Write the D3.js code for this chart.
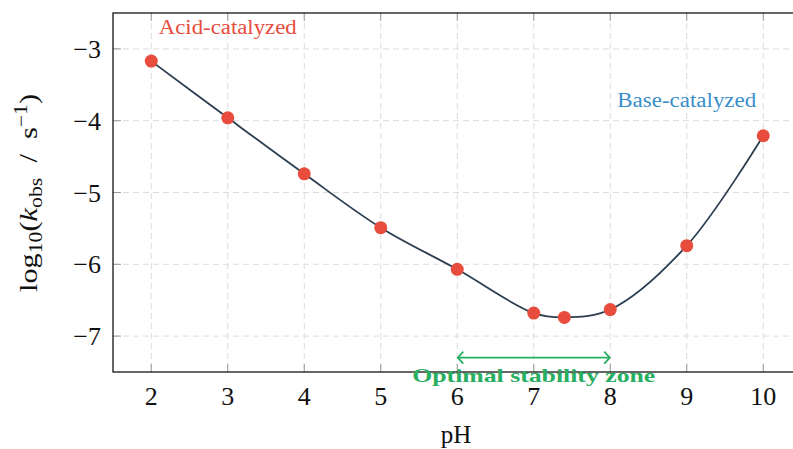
<!DOCTYPE html>
<html>
<head>
<meta charset="utf-8">
<script src="https://cdn.jsdelivr.net/npm/d3@7"></script>
<style>
  body { margin: 0; background: #fff; }
  svg { display: block; }
  text { font-family: "Liberation Serif", "DejaVu Serif", serif; }
  .tick-label { font-size: 26px; fill: #111; }
</style>
</head>
<body>
<svg width="793" height="449"></svg>
<script>
const width = 793;
const height = 449;

// data
const pH = [2, 3, 4, 5, 6, 7, 7.4, 8, 9, 10];
const logK = [-3.17, -3.96, -4.74, -5.49, -6.07, -6.68, -6.74, -6.63, -5.74, -4.21];
const xTicks = [2, 3, 4, 5, 6, 7, 8, 9, 10];
const yTicks = [-3, -4, -5, -6, -7];
const zoneStart = 6, zoneEnd = 8, zoneY = -7.3;

const margin = { left: 113, top: 13 };
const xScale = d3.scaleLinear().domain([1.5, 10.5]).range([margin.left, margin.left + 688.5]);
const yScale = d3.scaleLinear().domain([-2.5, -7.5]).range([margin.top, margin.top + 359]);

const svg = d3.select("svg");
const [x0, x1] = xScale.range();
const [y0, y1] = yScale.range();

// grid
const grid = svg.append("g").attr("stroke", "#dcdcdc").attr("stroke-width", 1).attr("stroke-dasharray", "6,4");
grid.selectAll(".vg").data(xTicks).enter().append("line")
  .attr("x1", d => xScale(d)).attr("x2", d => xScale(d))
  .attr("y1", y0).attr("y2", y1);
grid.selectAll(".hg").data(yTicks).enter().append("line")
  .attr("x1", x0).attr("x2", x1)
  .attr("y1", d => yScale(d)).attr("y2", d => yScale(d));

// tick marks (inside)
const ticks = svg.append("g").attr("stroke", "#9a9a9a").attr("stroke-width", 1);
xTicks.forEach(t => {
  ticks.append("line").attr("x1", xScale(t)).attr("x2", xScale(t)).attr("y1", y1).attr("y2", y1 - 8);
  ticks.append("line").attr("x1", xScale(t)).attr("x2", xScale(t)).attr("y1", y0).attr("y2", y0 + 8);
});
yTicks.forEach(t => {
  ticks.append("line").attr("x1", x0).attr("x2", x0 + 8).attr("y1", yScale(t)).attr("y2", yScale(t));
  ticks.append("line").attr("x1", x1).attr("x2", x1 - 8).attr("y1", yScale(t)).attr("y2", yScale(t));
});

// frame
svg.append("rect")
  .attr("x", x0).attr("y", y0).attr("width", x1 - x0).attr("height", y1 - y0)
  .attr("fill", "none").attr("stroke", "#000").attr("stroke-width", 1.2);

// tick labels
svg.selectAll(".xl").data(xTicks).enter().append("text")
  .attr("class", "tick-label")
  .attr("x", d => xScale(d)).attr("y", 405)
  .attr("text-anchor", "middle").text(d => d);
svg.selectAll(".yl").data(yTicks).enter().append("text")
  .attr("class", "tick-label")
  .attr("x", 101).attr("y", d => yScale(d) + 9)
  .attr("text-anchor", "end").text(d => "\u2212" + Math.abs(d));

// axis titles
svg.append("text").attr("x", 456).attr("y", 443)
  .attr("text-anchor", "middle").attr("font-size", 25).attr("fill", "#111").text("pH");

const yl = svg.append("text")
  .attr("transform", "translate(37,193) rotate(-90)")
  .attr("text-anchor", "middle").attr("font-size", 25).attr("fill", "#111")
  .attr("textLength", 198).attr("lengthAdjust", "spacingAndGlyphs");
yl.append("tspan").text("log");
yl.append("tspan").attr("font-size", 18).attr("dy", 5).text("10");
yl.append("tspan").attr("dy", -5).text("(");
yl.append("tspan").attr("font-style", "italic").text("k");
yl.append("tspan").attr("font-size", 18).attr("dy", 5).text("obs");
yl.append("tspan").attr("dy", -5).text("\u2002/\u2002s");
yl.append("tspan").attr("font-size", 18).attr("dy", -10).text("\u22121");
yl.append("tspan").attr("dy", 10).text(")");

// curve
const data = pH.map((x, i) => ({ x, y: logK[i] }));
const line = d3.line().x(d => xScale(d.x)).y(d => yScale(d.y)).curve(d3.curveCatmullRom.alpha(0.5));
svg.append("path").datum(data)
  .attr("d", line).attr("fill", "none").attr("stroke", "#2c3e50").attr("stroke-width", 1.8);

svg.selectAll(".dot").data(data).enter().append("circle")
  .attr("cx", d => xScale(d.x)).attr("cy", d => yScale(d.y))
  .attr("r", 6.5).attr("fill", "#e74c3c");

// annotations
svg.append("text").attr("x", xScale(3)).attr("y", yScale(-2.7) + 7)
  .attr("text-anchor", "middle").attr("font-size", 20).attr("fill", "#e74c3c")
  .attr("textLength", 138).attr("lengthAdjust", "spacingAndGlyphs").text("Acid-catalyzed");
svg.append("text").attr("x", xScale(9)).attr("y", yScale(-3.7) + 8)
  .attr("text-anchor", "middle").attr("font-size", 20).attr("fill", "#3a8fc9")
  .attr("textLength", 139).attr("lengthAdjust", "spacingAndGlyphs").text("Base-catalyzed");

// stability zone arrow
const green = "#27ae60";
const ay = yScale(zoneY);
const ax0 = xScale(zoneStart), ax1 = xScale(zoneEnd);
svg.append("line").attr("x1", ax0 + 1).attr("x2", ax1 - 1).attr("y1", ay).attr("y2", ay)
  .attr("stroke", green).attr("stroke-width", 1.8);
svg.append("path").attr("d", `M${ax0 + 6},${ay - 6} L${ax0 + 0.5},${ay} L${ax0 + 6},${ay + 6}`)
  .attr("fill", "none").attr("stroke", green).attr("stroke-width", 1.8);
svg.append("path").attr("d", `M${ax1 - 6},${ay - 6} L${ax1 - 0.5},${ay} L${ax1 - 6},${ay + 6}`)
  .attr("fill", "none").attr("stroke", green).attr("stroke-width", 1.8);
svg.append("text").attr("x", xScale(7)).attr("y", 382)
  .attr("text-anchor", "middle").attr("font-size", 19).attr("font-weight", "bold")
  .attr("fill", green).attr("textLength", 243).attr("lengthAdjust", "spacingAndGlyphs")
  .text("Optimal stability zone");
</script>
</body>
</html>
